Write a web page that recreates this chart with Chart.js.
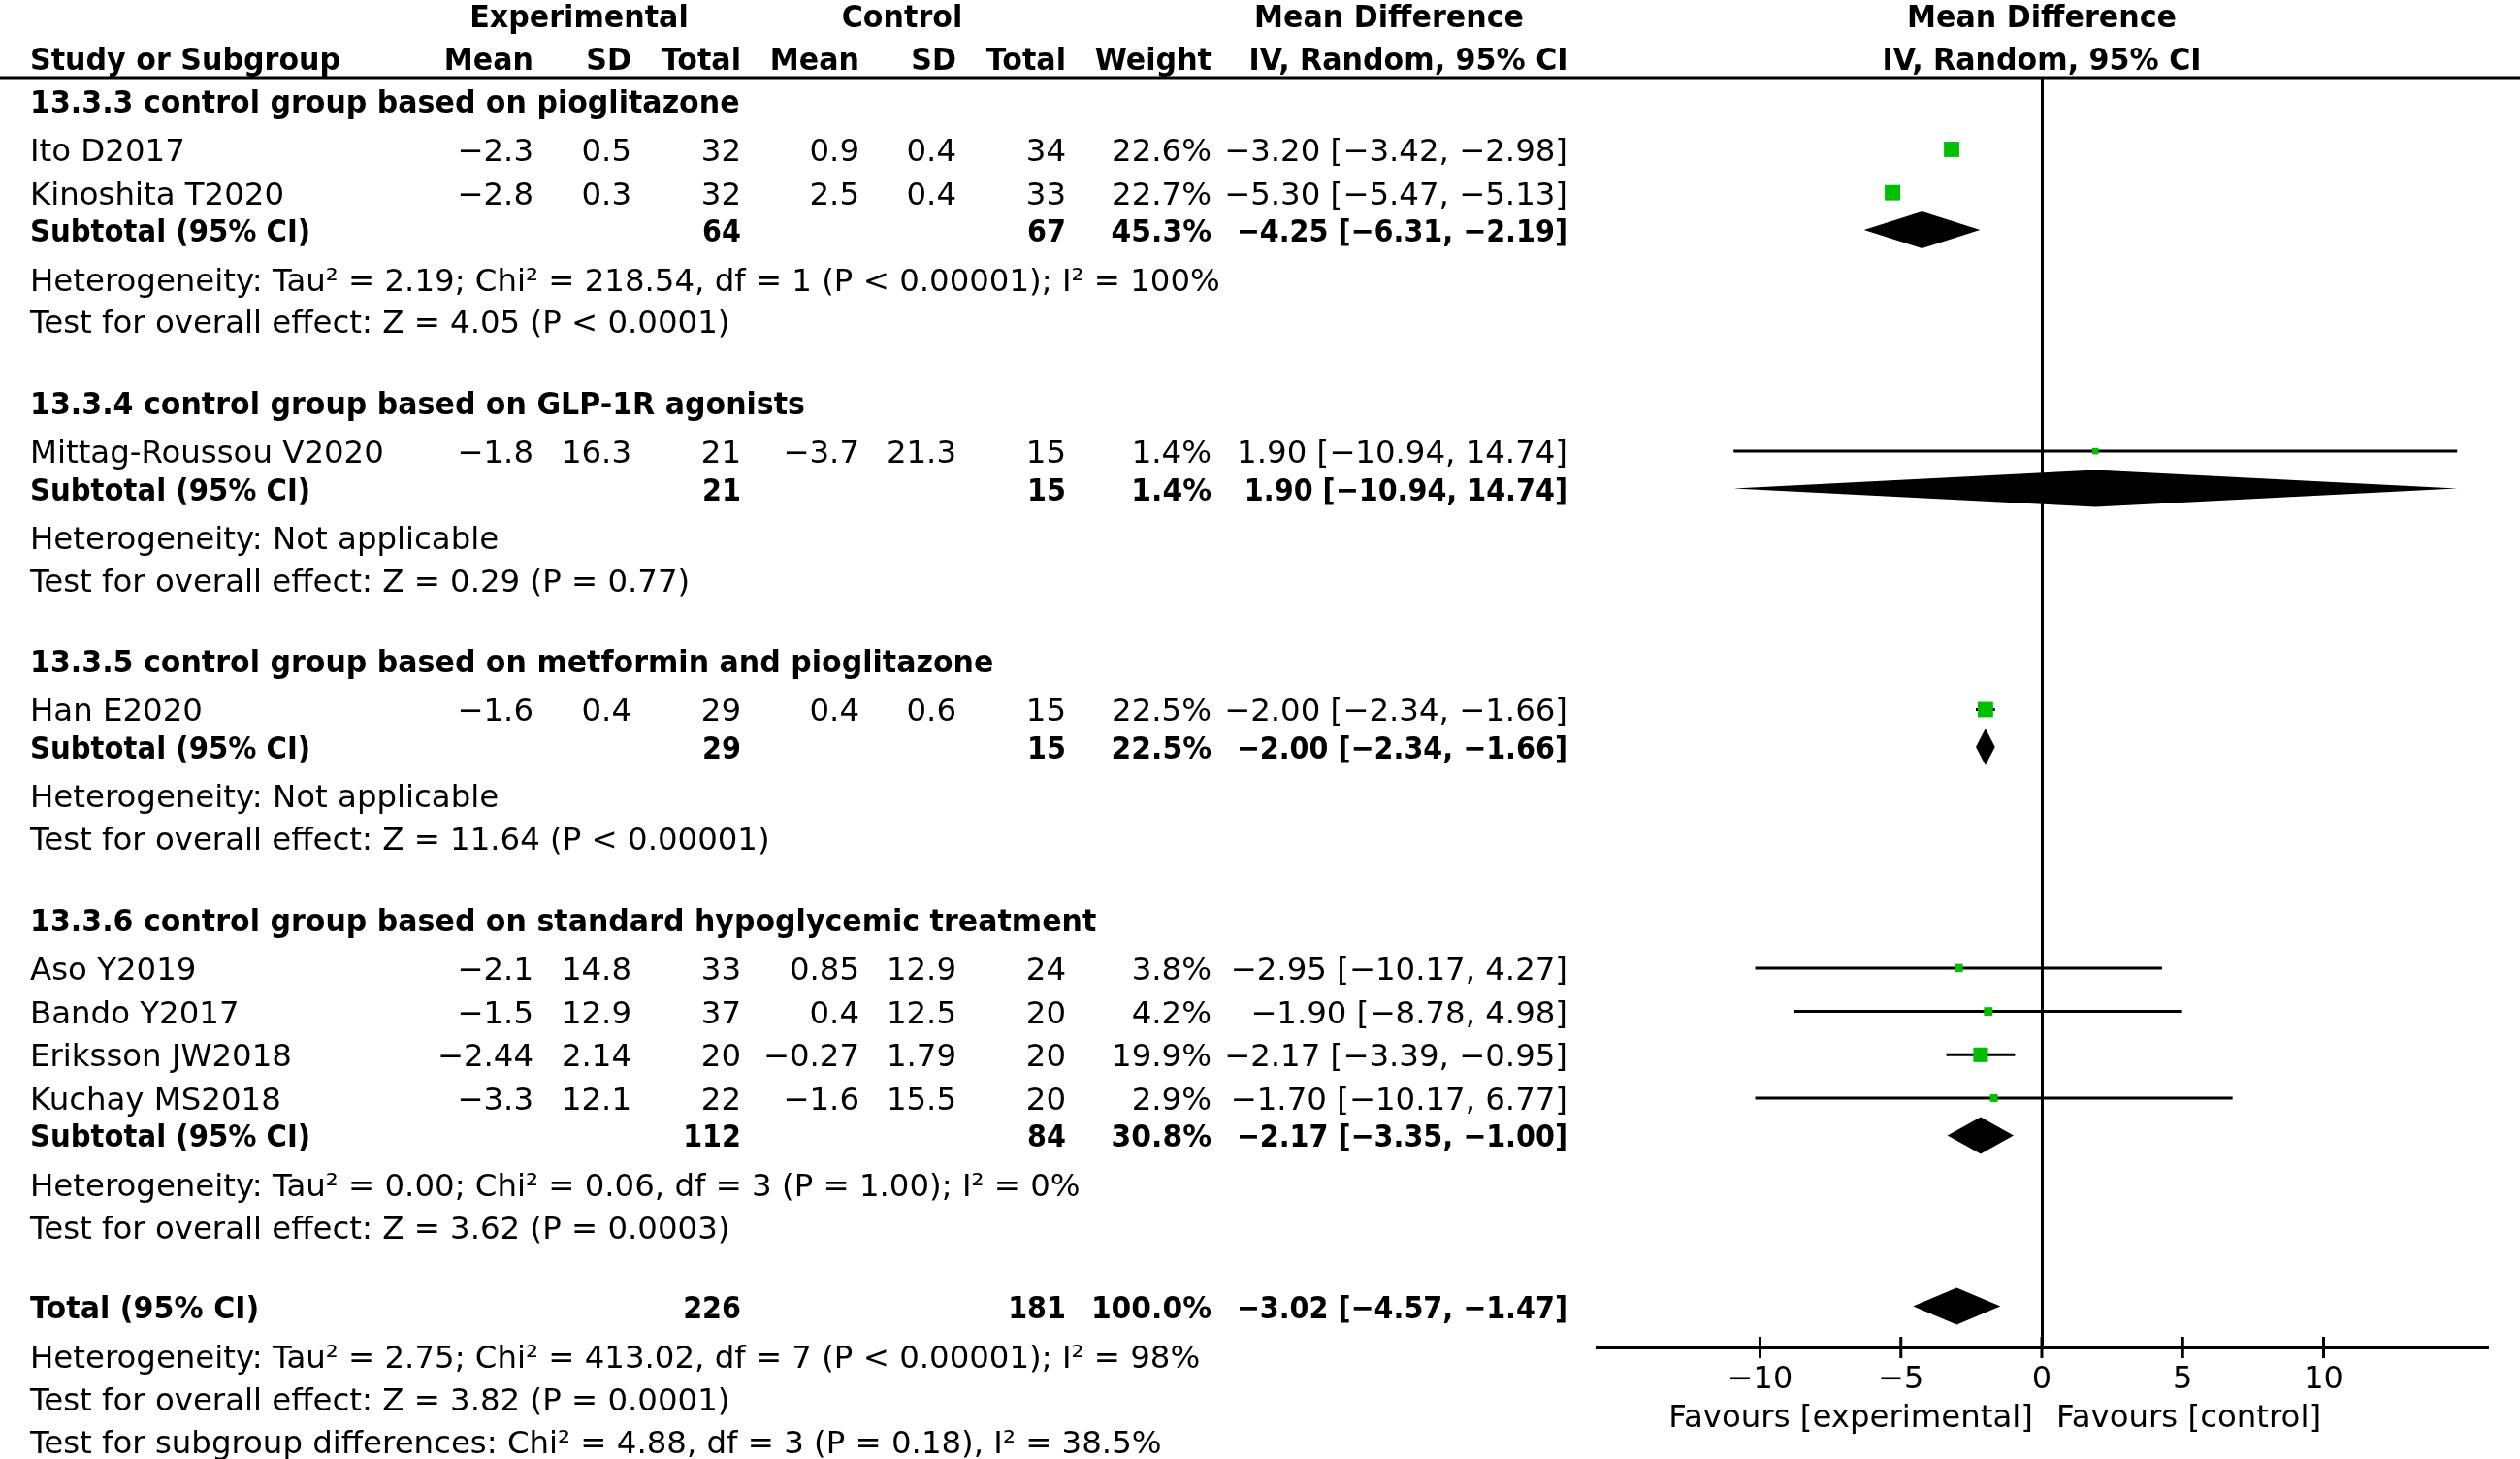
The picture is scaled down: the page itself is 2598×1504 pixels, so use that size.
<!DOCTYPE html>
<html><head><meta charset="utf-8">
<style>html,body{margin:0;padding:0;background:#fff;overflow:hidden}#wrap{position:relative;width:2598px;height:1504px}</style>
<script src="https://cdn.jsdelivr.net/npm/chart.js@4.4.0/dist/chart.umd.min.js"></script>
</head><body><div id="wrap"><canvas id="c"></canvas></div>
<script>
// ---------------- data ----------------
const groupNames = [
  '13.3.3 control group based on pioglitazone',
  '13.3.4 control group based on GLP-1R agonists',
  '13.3.5 control group based on metformin and pioglitazone',
  '13.3.6 control group based on standard hypoglycemic treatment'
];
const studies = ['Ito D2017','Kinoshita T2020','Mittag-Roussou V2020','Han E2020','Aso Y2019','Bando Y2017','Eriksson JW2018','Kuchay MS2018'];
const studyGroup = [0,0,1,2,3,3,3,3];
const expMean = [-2.3,-2.8,-1.8,-1.6,-2.1,-1.5,-2.44,-3.3];
const expSD   = [0.5,0.3,16.3,0.4,14.8,12.9,2.14,12.1];
const expN    = [32,32,21,29,33,37,20,22];
const ctlMean = [0.9,2.5,-3.7,0.4,0.85,0.4,-0.27,-1.6];
const ctlSD   = [0.4,0.4,21.3,0.6,12.9,12.5,1.79,15.5];
const ctlN    = [34,33,15,15,24,20,20,20];
const weight  = [22.6,22.7,1.4,22.5,3.8,4.2,19.9,2.9];
const md      = [-3.20,-5.30,1.90,-2.00,-2.95,-1.90,-2.17,-1.70];
const ciLow   = [-3.42,-5.47,-10.94,-2.34,-10.17,-8.78,-3.39,-10.17];
const ciHigh  = [-2.98,-5.13,14.74,-1.66,4.27,4.98,-0.95,6.77];

const subExpN   = [64,21,29,112];
const subCtlN   = [67,15,15,84];
const subWeight = [45.3,1.4,22.5,30.8];
const subMD     = [-4.25,1.90,-2.00,-2.17];
const subLow    = [-6.31,-10.94,-2.34,-3.35];
const subHigh   = [-2.19,14.74,-1.66,-1.00];
const hetText = [
  'Heterogeneity: Tau\u00b2 = 2.19; Chi\u00b2 = 218.54, df = 1 (P < 0.00001); I\u00b2 = 100%',
  'Heterogeneity: Not applicable',
  'Heterogeneity: Not applicable',
  'Heterogeneity: Tau\u00b2 = 0.00; Chi\u00b2 = 0.06, df = 3 (P = 1.00); I\u00b2 = 0%'
];
const testText = [
  'Test for overall effect: Z = 4.05 (P < 0.0001)',
  'Test for overall effect: Z = 0.29 (P = 0.77)',
  'Test for overall effect: Z = 11.64 (P < 0.00001)',
  'Test for overall effect: Z = 3.62 (P = 0.0003)'
];
const totalExpN = 226, totalCtlN = 181, totalWeight = 100.0;
const totalMD = -3.02, totalLow = -4.57, totalHigh = -1.47;
const totalHet = 'Heterogeneity: Tau\u00b2 = 2.75; Chi\u00b2 = 413.02, df = 7 (P < 0.00001); I\u00b2 = 98%';
const totalTest = 'Test for overall effect: Z = 3.82 (P = 0.0001)';
const subgroupTest = 'Test for subgroup differences: Chi\u00b2 = 4.88, df = 3 (P = 0.18), I\u00b2 = 38.5%';
const xTicks = [-10,-5,0,5,10];
const favLeft = 'Favours [experimental]';
const favRight = 'Favours [control]';

// ---------------- layout (row sequence) ----------------
const rows = [];
groupNames.forEach((g, gi) => {
  rows.push({kind:'group', gi});
  studies.forEach((s, si) => { if (studyGroup[si] === gi) rows.push({kind:'study', si}); });
  rows.push({kind:'subtotal', gi});
  rows.push({kind:'het', text: hetText[gi]});
  rows.push({kind:'test', text: testText[gi]});
});
rows.push({kind:'total'});
rows.push({kind:'het', text: totalHet});
rows.push({kind:'test', text: totalTest});
rows.push({kind:'test', text: subgroupTest});
const GAP = {
  'group>study':1.12, 'study>study':1.0, 'study>subtotal':0.86, 'subtotal>het':1.13,
  'het>test':0.98, 'test>group':1.87, 'test>total':1.83, 'total>het':1.16, 'test>test':0.99
};
let pos = -1.12;
rows.forEach((r, i) => {
  if (i > 0) pos += GAP[rows[i-1].kind + '>' + r.kind];
  r.y = pos;
});
const studyY = [], subY = [];
let totalY = 0;
rows.forEach(r => {
  if (r.kind === 'study') studyY[r.si] = r.y;
  if (r.kind === 'subtotal') subY[r.gi] = r.y;
  if (r.kind === 'total') totalY = r.y;
});

// ---------------- helpers ----------------
const FONT = 'DejaVu Sans';
const FS = 32.4;
const minus = s => String(s).replace(/-/g, '\u2212');
const f2 = v => minus(v.toFixed(2));
const ciStr = (m, l, h) => f2(m) + ' [' + f2(l) + ', ' + f2(h) + ']';
const wStr = w => w.toFixed(1) + '%';

// bold: false | true ; sx: horizontal squeeze for bold glyphs
function put(ctx, s, x, yc, align, bold, sx) {
  ctx.save();
  ctx.font = (bold ? 'bold ' : '') + FS + 'px "' + FONT + '"';
  ctx.fillStyle = '#000';
  ctx.textAlign = align;
  ctx.textBaseline = 'alphabetic';
  ctx.translate(x, yc + 12);
  if (bold) ctx.scale(sx || 0.93, 1);
  ctx.fillText(s, 0, 0);
  ctx.restore();
}
const NUMSX = 0.885;

const COL = {name:31, em:550, esd:651, en:764, cm:886, csd:986, cn:1099, w:1249, ci:1616};

const tablePlugin = {
  id: 'table',
  afterDraw(chart) {
    const ctx = chart.ctx, ys = chart.scales.y, xs = chart.scales.x, ca = chart.chartArea;
    const zx = xs.getPixelForValue(0);
    // header
    const h1 = ca.top - 64, h2 = ca.top - 20;
    put(ctx, 'Experimental', 597, h1, 'center', true);
    put(ctx, 'Control', 930, h1, 'center', true);
    put(ctx, 'Mean Difference', 1432, h1, 'center', true);
    put(ctx, 'Mean Difference', zx, h1, 'center', true);
    put(ctx, 'Study or Subgroup', COL.name, h2, 'left', true);
    put(ctx, 'Mean', COL.em, h2, 'right', true);
    put(ctx, 'SD', COL.esd, h2, 'right', true);
    put(ctx, 'Total', COL.en, h2, 'right', true);
    put(ctx, 'Mean', COL.cm, h2, 'right', true);
    put(ctx, 'SD', COL.csd, h2, 'right', true);
    put(ctx, 'Total', COL.cn, h2, 'right', true);
    put(ctx, 'Weight', COL.w, h2, 'right', true);
    put(ctx, 'IV, Random, 95% CI', 1452, h2, 'center', true);
    put(ctx, 'IV, Random, 95% CI', zx, h2, 'center', true);
    // header rule
    ctx.save();
    ctx.strokeStyle = '#000'; ctx.lineWidth = 3;
    ctx.beginPath(); ctx.moveTo(0, ca.top); ctx.lineTo(chart.width, ca.top); ctx.stroke();
    ctx.restore();

    rows.forEach(r => {
      const y = ys.getPixelForValue(r.y);
      if (r.kind === 'group') put(ctx, groupNames[r.gi], COL.name, y, 'left', true, 0.928);
      else if (r.kind === 'study') {
        const i = r.si;
        put(ctx, studies[i], COL.name, y, 'left', false);
        put(ctx, minus(expMean[i]), COL.em, y, 'right', false);
        put(ctx, minus(expSD[i]), COL.esd, y, 'right', false);
        put(ctx, String(expN[i]), COL.en, y, 'right', false);
        put(ctx, minus(ctlMean[i]), COL.cm, y, 'right', false);
        put(ctx, minus(ctlSD[i]), COL.csd, y, 'right', false);
        put(ctx, String(ctlN[i]), COL.cn, y, 'right', false);
        put(ctx, wStr(weight[i]), COL.w, y, 'right', false);
        put(ctx, ciStr(md[i], ciLow[i], ciHigh[i]), COL.ci, y, 'right', false);
      } else if (r.kind === 'subtotal') {
        const g = r.gi;
        put(ctx, 'Subtotal (95% CI)', COL.name, y, 'left', true, 0.9);
        put(ctx, String(subExpN[g]), COL.en, y, 'right', true, NUMSX);
        put(ctx, String(subCtlN[g]), COL.cn, y, 'right', true, NUMSX);
        put(ctx, wStr(subWeight[g]), COL.w, y, 'right', true, 0.92);
        put(ctx, ciStr(subMD[g], subLow[g], subHigh[g]), COL.ci, y, 'right', true, NUMSX);
      } else if (r.kind === 'total') {
        put(ctx, 'Total (95% CI)', COL.name, y, 'left', true, 0.93);
        put(ctx, String(totalExpN), COL.en, y, 'right', true, NUMSX);
        put(ctx, String(totalCtlN), COL.cn, y, 'right', true, NUMSX);
        put(ctx, wStr(totalWeight), COL.w, y, 'right', true, 0.92);
        put(ctx, ciStr(totalMD, totalLow, totalHigh), COL.ci, y, 'right', true, NUMSX);
      } else {
        put(ctx, r.text, COL.name, y, 'left', false);
      }
    });

    // tick marks crossing the axis
    ctx.save();
    ctx.strokeStyle = '#000'; ctx.lineWidth = 3;
    xs.ticks.forEach(t => {
      const px = xs.getPixelForValue(t.value);
      ctx.beginPath(); ctx.moveTo(px, ca.bottom - 11); ctx.lineTo(px, ca.bottom + 11); ctx.stroke();
    });
    ctx.restore();
    // favours labels
    put(ctx, favLeft, zx - 9, ca.bottom + 70, 'right', false);
    put(ctx, favRight, zx + 15, ca.bottom + 70, 'left', false);
  }
};

const diamondPlugin = {
  id: 'diamonds',
  afterDatasetsDraw(chart) {
    const ctx = chart.ctx, xs = chart.scales.x, ys = chart.scales.y;
    const items = subMD.map((m, g) => [m, subLow[g], subHigh[g], subY[g]]);
    items.push([totalMD, totalLow, totalHigh, totalY]);
    ctx.save();
    ctx.fillStyle = '#000';
    items.forEach(([m, l, h, yv]) => {
      const y = ys.getPixelForValue(yv);
      const hh = 19;
      ctx.beginPath();
      ctx.moveTo(xs.getPixelForValue(l), y);
      ctx.lineTo(xs.getPixelForValue(m), y - hh);
      ctx.lineTo(xs.getPixelForValue(h), y);
      ctx.lineTo(xs.getPixelForValue(m), y + hh);
      ctx.closePath();
      ctx.fill();
    });
    ctx.restore();
  }
};

// ---------------- datasets ----------------
const datasets = [];
studies.forEach((s, i) => {
  datasets.push({
    type: 'line', label: s + ' CI', order: 2,
    data: [{x: ciLow[i], y: studyY[i]}, {x: ciHigh[i], y: studyY[i]}],
    borderColor: '#000', borderWidth: 3, pointRadius: 0, fill: false
  });
});
datasets.push({
  type: 'scatter', label: 'Studies', order: 1,
  data: studies.map((s, i) => ({x: md[i], y: studyY[i]})),
  pointStyle: 'rect',
  pointRadius: weight.map(w => (3.5 + 2.6 * Math.sqrt(w)) / Math.SQRT2),
  backgroundColor: '#00bf00', borderWidth: 0
});

new Chart(document.getElementById('c'), {
  type: 'scatter',
  data: { datasets },
  options: {
    responsive: true, maintainAspectRatio: false, animation: false, devicePixelRatio: 1,
    events: [],
    layout: { padding: { left: 1646, right: 34, top: 80, bottom: 0 } },
    plugins: { legend: { display: false }, tooltip: { enabled: false } },
    scales: {
      x: {
        type: 'linear', min: -15.8, max: 15.8,
        afterBuildTicks: s => { s.ticks = xTicks.map(v => ({value: v})); },
        afterFit: s => { s.height = 115; },
        grid: { drawTicks: false, lineWidth: 3,
          color: c => (c.tick && c.tick.value === 0) ? '#000' : 'rgba(0,0,0,0)' },
        border: { display: true, color: '#000', width: 3 },
        ticks: { padding: 14, color: '#000', font: { family: FONT, size: 32 },
          callback: v => minus(v) }
      },
      y: {
        type: 'linear', display: false, reverse: true, min: -1.655, max: 27.63
      }
    }
  },
  plugins: [diamondPlugin, tablePlugin]
});
</script>
</body></html>
